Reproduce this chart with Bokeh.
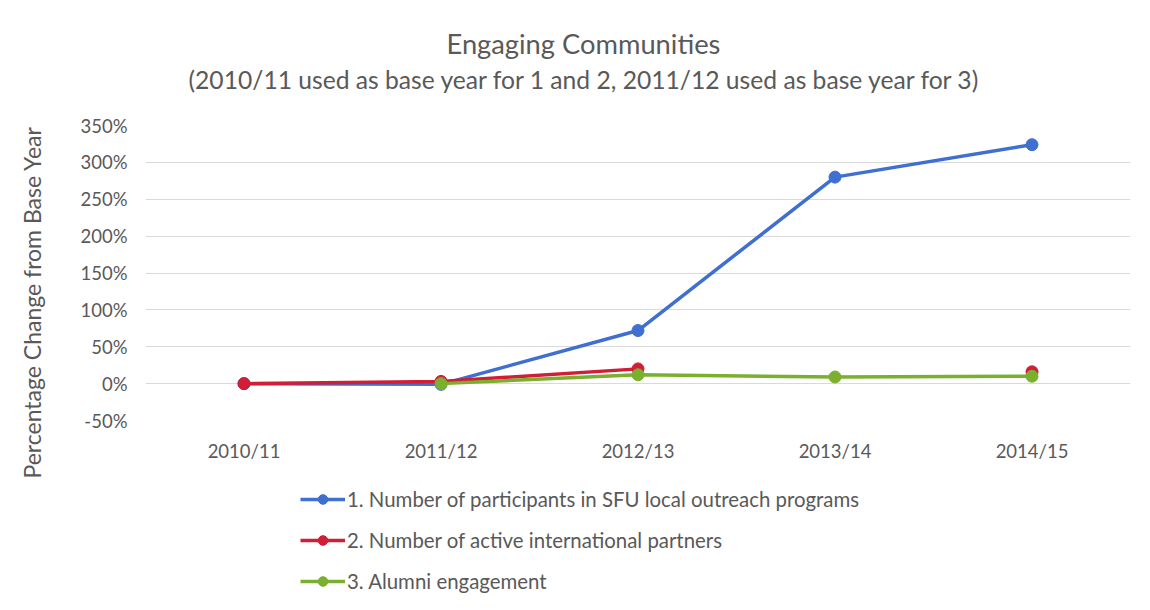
from bokeh.plotting import figure
from bokeh.layouts import column
from bokeh.models import (FixedTicker, PrintfTickFormatter, Legend, LegendItem, Title)
from bokeh.embed import file_html
from bokeh.resources import INLINE
import numpy as np

years = ["2010/11", "2011/12", "2012/13", "2013/14", "2014/15"]
participants = [0, -1, 72, 280, 324]
partners = [0, 3, 20, np.nan, 16]
alumni = [np.nan, 0, 12, 9, 10]
y_ticks = [-50, 0, 50, 100, 150, 200, 250, 300, 350]

series_names = ["1. Number of participants in SFU local outreach programs",
                "2. Number of active international partners",
                "3. Alumni engagement"]
colors = ["#3F6FD0", "#D11D35", "#7AB02E"]

FONT = "Lato"
GRAY = "#595959"

p = figure(width=1134, height=481, x_range=years, y_range=(-50, 350),
           output_backend="svg", toolbar_location=None,
           min_border_left=145, min_border_right=4, min_border_top=125,
           min_border_bottom=61)
p.outline_line_color = None
p.background_fill_color = "white"
p.border_fill_color = "white"

for vals, c in zip([participants, partners, alumni], colors):
    p.line(years, vals, line_color=c, line_width=3.5)
    p.scatter(years, vals, size=12, fill_color=c, line_color=c)

p.xgrid.grid_line_color = None
p.ygrid.grid_line_color = "#d9d9d9"
p.ygrid.grid_line_width = 1
p.yaxis.ticker = FixedTicker(ticks=y_ticks)
p.yaxis.formatter = PrintfTickFormatter(format="%d%%")
for ax in [p.xaxis[0], p.yaxis[0]]:
    ax.axis_line_color = None
    ax.major_tick_line_color = None
    ax.minor_tick_line_color = None
    ax.major_label_text_font = FONT
    ax.major_label_text_font_size = "18.5px"
    ax.major_label_text_color = GRAY
p.xaxis.major_label_standoff = 13
p.yaxis.major_label_standoff = 12

lspacer = Title(text=" ", text_font_size="1px", standoff=29)
ylab = Title(text="Percentage Change from Base Year", align="left", offset=-58,
             text_font=FONT, text_font_size="23px", text_font_style="normal",
             text_color=GRAY, standoff=0)
p.add_layout(lspacer, "left")
p.add_layout(ylab, "left")

spacer = Title(text=" ", text_font_size="1px", standoff=29)
sub = Title(text="(2010/11 used as base year for 1 and 2, 2011/12 used as base year for 3)",
            align="left", text_font=FONT, text_font_size="24.65px",
            text_font_style="normal", text_color=GRAY, offset=43, standoff=0)
main = Title(text="Engaging Communities", align="left", text_font=FONT,
             text_font_size="27.3px", text_font_style="normal", text_color=GRAY,
             offset=301, standoff=6)
p.add_layout(spacer, "above")
p.add_layout(sub, "above")
p.add_layout(main, "above")

# legend figure below the chart
p2 = figure(width=1134, height=113, x_range=years, y_range=(1000, 1001),
            output_backend="svg", toolbar_location=None,
            x_axis_type=None, y_axis_type=None, min_border=0)
p2.outline_line_color = None
p2.xgrid.grid_line_color = None
p2.ygrid.grid_line_color = None
items = []
for name, vals, c in zip(series_names, [participants, partners, alumni], colors):
    l = p2.line(years, vals, line_color=c, line_width=3.5)
    s = p2.scatter(years, vals, size=12, fill_color=c, line_color=c)
    items.append(LegendItem(label=name, renderers=[l, s]))
legend = Legend(items=items, location=(155, 1), orientation="vertical",
                label_text_font=FONT, label_text_font_size="20.4px", label_text_color=GRAY,
                glyph_width=45, glyph_height=24, label_height=24, spacing=17,
                label_standoff=2, padding=0, margin=0,
                border_line_color=None, background_fill_alpha=0)
p2.add_layout(legend, "center")

layout = column(p, p2, spacing=0)
open("out.html", "w").write(file_html(layout, INLINE))
